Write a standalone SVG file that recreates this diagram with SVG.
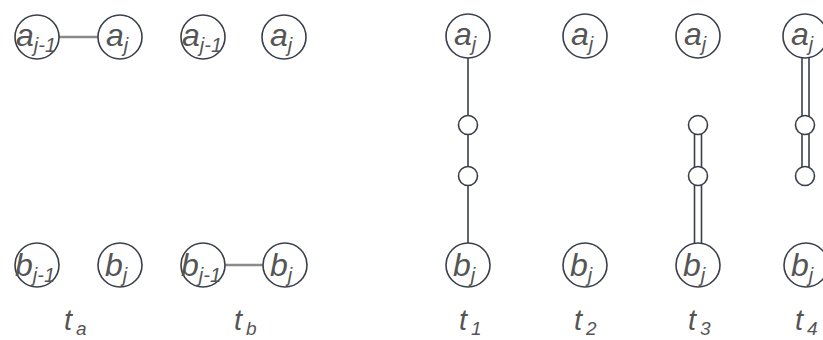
<svg xmlns="http://www.w3.org/2000/svg" width="823" height="340" viewBox="0 0 823 340">
<style>
.n{fill:#fff;stroke:#3a3f4a;stroke-width:1.6}
.s{fill:#fff;stroke:#3a3f4a;stroke-width:1.6}
.e{stroke:#3a3f4a;stroke-width:1.6;fill:none}
.h{stroke:#8a8a8a;stroke-width:2.4;fill:none}
.t{font-family:"Liberation Sans",Arial,sans-serif;font-style:italic;fill:#555;font-size:32px}
.sub{font-size:20px}
.lb{font-family:"Liberation Sans",Arial,sans-serif;font-style:italic;fill:#555;font-size:29px}
.lsub{font-size:19px}
</style>
<rect width="823" height="340" fill="#fff"/>
<g id="connectors">
<line class="h" x1="59" y1="37" x2="98" y2="37"/>
<line class="h" x1="225" y1="265" x2="263" y2="265"/>
<line class="e" x1="468" y1="58" x2="468" y2="243"/>
<line class="e" x1="694.5" y1="125" x2="694.5" y2="243"/>
<line class="e" x1="701.5" y1="125" x2="701.5" y2="243"/>
<line class="e" x1="802" y1="58" x2="802" y2="176"/>
<line class="e" x1="809" y1="58" x2="809" y2="176"/>
</g>
<g id="ta_a1"><circle class="n" cx="37" cy="37" r="22"/><text class="t" x="16" y="46">a<tspan class="sub" dy="6">j-1</tspan></text></g>
<g id="ta_a2"><circle class="n" cx="120" cy="37" r="22"/><text class="t" x="106" y="46">a<tspan class="sub" dy="6">j</tspan></text></g>
<g id="ta_b1"><circle class="n" cx="37" cy="265" r="22"/><text class="t" x="15" y="276">b<tspan class="sub" dy="6">j-1</tspan></text></g>
<g id="ta_b2"><circle class="n" cx="120" cy="265" r="22"/><text class="t" x="105" y="276">b<tspan class="sub" dy="6">j</tspan></text></g>
<g id="tb_a1"><circle class="n" cx="203" cy="37" r="22"/><text class="t" x="182" y="46">a<tspan class="sub" dy="6">j-1</tspan></text></g>
<g id="tb_a2"><circle class="n" cx="284" cy="37" r="22"/><text class="t" x="270" y="46">a<tspan class="sub" dy="6">j</tspan></text></g>
<g id="tb_b1"><circle class="n" cx="203" cy="265" r="22"/><text class="t" x="181" y="276">b<tspan class="sub" dy="6">j-1</tspan></text></g>
<g id="tb_b2"><circle class="n" cx="285" cy="265" r="22"/><text class="t" x="270" y="276">b<tspan class="sub" dy="6">j</tspan></text></g>
<g id="t1_a"><circle class="n" cx="468" cy="36" r="22"/><text class="t" x="454" y="45">a<tspan class="sub" dy="6">j</tspan></text></g>
<g id="t1_m1"><circle class="s" cx="468" cy="125" r="9.5"/></g>
<g id="t1_m2"><circle class="s" cx="468" cy="176" r="9.5"/></g>
<g id="t1_b"><circle class="n" cx="468" cy="265" r="22"/><text class="t" x="453" y="276">b<tspan class="sub" dy="6">j</tspan></text></g>
<g id="t2_a"><circle class="n" cx="585" cy="36" r="22"/><text class="t" x="571" y="45">a<tspan class="sub" dy="6">j</tspan></text></g>
<g id="t2_b"><circle class="n" cx="585" cy="265" r="22"/><text class="t" x="570" y="276">b<tspan class="sub" dy="6">j</tspan></text></g>
<g id="t3_a"><circle class="n" cx="698" cy="36" r="22"/><text class="t" x="684" y="45">a<tspan class="sub" dy="6">j</tspan></text></g>
<g id="t3_m1"><circle class="s" cx="698" cy="125" r="9.5"/></g>
<g id="t3_m2"><circle class="s" cx="698" cy="176" r="9.5"/></g>
<g id="t3_b"><circle class="n" cx="698" cy="265" r="22"/><text class="t" x="683" y="276">b<tspan class="sub" dy="6">j</tspan></text></g>
<g id="t4_a"><circle class="n" cx="805" cy="36" r="22"/><text class="t" x="791" y="45">a<tspan class="sub" dy="6">j</tspan></text></g>
<g id="t4_m1"><circle class="s" cx="805" cy="125" r="9.5"/></g>
<g id="t4_m2"><circle class="s" cx="805" cy="176" r="9.5"/></g>
<g id="t4_b"><circle class="n" cx="806" cy="265" r="22"/><text class="t" x="791" y="276">b<tspan class="sub" dy="6">j</tspan></text></g>
<g id="labels">
<text class="lb" x="64" y="330">t<tspan class="lsub" dx="4" dy="5">a</tspan></text>
<text class="lb" x="234" y="330">t<tspan class="lsub" dx="4" dy="5">b</tspan></text>
<text class="lb" x="459" y="330">t<tspan class="lsub" dx="4" dy="5">1</tspan></text>
<text class="lb" x="574" y="330">t<tspan class="lsub" dx="4" dy="5">2</tspan></text>
<text class="lb" x="688" y="330">t<tspan class="lsub" dx="4" dy="5">3</tspan></text>
<text class="lb" x="795" y="330">t<tspan class="lsub" dx="4" dy="5">4</tspan></text>
</g>
</svg>
